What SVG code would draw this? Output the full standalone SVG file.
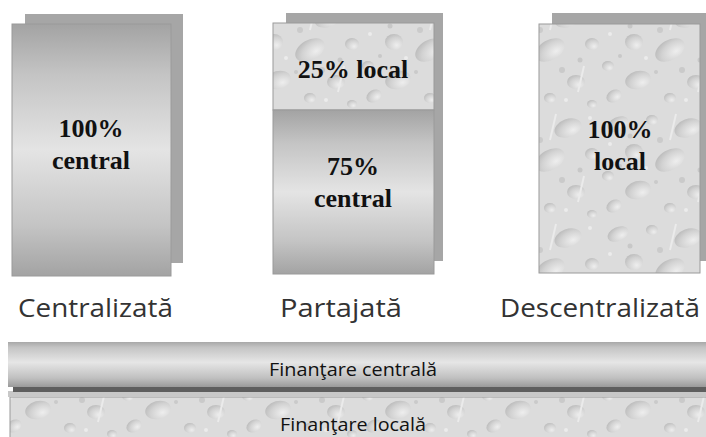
<svg xmlns="http://www.w3.org/2000/svg" width="706" height="437" viewBox="0 0 706 437">
<defs>
  <linearGradient id="cardGrad" x1="0" y1="0" x2="0" y2="1">
    <stop offset="0" stop-color="#a3a3a3"/>
    <stop offset="0.2" stop-color="#c4c4c4"/>
    <stop offset="0.5" stop-color="#e4e4e4"/>
    <stop offset="0.8" stop-color="#c4c4c4"/>
    <stop offset="1" stop-color="#a3a3a3"/>
  </linearGradient>
  <linearGradient id="barGrad" x1="0" y1="0" x2="0" y2="1">
    <stop offset="0" stop-color="#a8a8a8"/>
    <stop offset="0.12" stop-color="#c4c4c4"/>
    <stop offset="0.45" stop-color="#e6e6e6"/>
    <stop offset="0.8" stop-color="#c0c0c0"/>
    <stop offset="1" stop-color="#9a9a9a"/>
  </linearGradient>
  <radialGradient id="drop" cx="0.65" cy="0.7" r="0.8">
    <stop offset="0" stop-color="#eeeeee"/>
    <stop offset="0.6" stop-color="#d2d2d2"/>
    <stop offset="1" stop-color="#b8b8b8"/>
  </radialGradient>
  <pattern id="water" x="0" y="0" width="120" height="110" patternUnits="userSpaceOnUse">
    <rect width="120" height="110" fill="#dcdcdc"/>
    <ellipse cx="18" cy="14" rx="11" ry="7" transform="rotate(-25 18 14)" fill="url(#drop)"/>
    <ellipse cx="52" cy="10" rx="6" ry="5" fill="url(#drop)"/>
    <ellipse cx="88" cy="18" rx="14" ry="9" transform="rotate(-20 88 18)" fill="url(#drop)"/>
    <ellipse cx="112" cy="44" rx="7" ry="6" fill="url(#drop)"/>
    <ellipse cx="34" cy="42" rx="9" ry="8" fill="url(#drop)"/>
    <ellipse cx="70" cy="50" rx="16" ry="10" transform="rotate(-30 70 50)" fill="url(#drop)"/>
    <ellipse cx="8" cy="66" rx="6" ry="5" fill="url(#drop)"/>
    <ellipse cx="38" cy="80" rx="13" ry="9" transform="rotate(-15 38 80)" fill="url(#drop)"/>
    <ellipse cx="96" cy="82" rx="9" ry="7" fill="url(#drop)"/>
    <ellipse cx="70" cy="98" rx="6" ry="5" fill="url(#drop)"/>
    <ellipse cx="112" cy="104" rx="5" ry="4" fill="url(#drop)"/>
    <ellipse cx="14" cy="96" rx="8" ry="6" transform="rotate(-30 14 96)" fill="url(#drop)"/>
    <circle cx="30" cy="26" r="2.5" fill="#c8c8c8"/>
    <circle cx="60" cy="30" r="3" fill="#cbcbcb"/>
    <circle cx="100" cy="60" r="2.5" fill="#c8c8c8"/>
    <circle cx="20" cy="56" r="2" fill="#c8c8c8"/>
    <circle cx="56" cy="72" r="2" fill="#cacaca"/>
    <circle cx="82" cy="70" r="3" fill="#cacaca"/>
    <circle cx="10" cy="34" r="2" fill="#ececec"/>
    <circle cx="46" cy="58" r="2" fill="#ececec"/>
    <circle cx="110" cy="8" r="2" fill="#ececec"/>
    <circle cx="86" cy="100" r="2" fill="#ececec"/>
    <path d="M 76 4 L 70 30" stroke="#ebebeb" stroke-width="2" fill="none"/>
    <path d="M 104 66 L 98 92" stroke="#ebebeb" stroke-width="2" fill="none"/>
  </pattern>
  <style>
    .back { fill: #a6a6a6; }
    .card { fill: url(#cardGrad); stroke: #9a9a9a; stroke-width: 1; }
    .tex { fill: url(#water); stroke: #9a9a9a; stroke-width: 1; }
    .big { font-family: "Liberation Serif", "Times New Roman", serif; font-weight: bold; font-size: 26px; fill: #111; text-anchor: middle; }
    .lbl { font-family: "Open Sans", "DejaVu Sans", sans-serif; font-size: 25px; fill: #333; text-anchor: middle; }
    .bar { font-family: "Open Sans", "DejaVu Sans", sans-serif; font-size: 18px; fill: #111; text-anchor: middle; }
  </style>
</defs>
<rect width="706" height="437" fill="#ffffff"/>

<g id="centralizata">
  <rect class="back" x="25" y="14" width="158" height="249"/>
  <rect class="card" x="12" y="24" width="159" height="252"/>
  <text class="big" x="91" y="137">100%</text>
  <text class="big" x="91" y="169">central</text>
  <text class="lbl" x="95.5" y="317" textLength="155" lengthAdjust="spacingAndGlyphs">Centralizată</text>
</g>

<g id="partajata">
  <rect class="back" x="286" y="13" width="157" height="248"/>
  <rect class="tex" x="273" y="23" width="161" height="87"/>
  <rect class="card" x="273" y="110" width="161" height="164"/>
  <text class="big" x="353" y="78">25% local</text>
  <text class="big" x="353" y="175">75%</text>
  <text class="big" x="353" y="207">central</text>
  <text class="lbl" x="341" y="317" textLength="122" lengthAdjust="spacingAndGlyphs">Partajată</text>
</g>

<g id="descentralizata">
  <rect class="back" x="552" y="13" width="154" height="248"/>
  <rect class="tex" x="539" y="24" width="161" height="249"/>
  <text class="big" x="620" y="138">100%</text>
  <text class="big" x="620" y="170">local</text>
  <text class="lbl" x="600" y="317" textLength="200" lengthAdjust="spacingAndGlyphs">Descentralizată</text>
</g>

<g id="finantare-locala">
  <rect x="10" y="397" width="700" height="44" fill="url(#water)" stroke="#9a9a9a"/>
  <text class="bar" x="353" y="431" textLength="146" lengthAdjust="spacingAndGlyphs">Finanţare locală</text>
</g>

<g id="finantare-centrala">
  <rect x="8" y="391" width="700" height="6" fill="#c8c8c8"/>
  <rect x="13" y="386" width="700" height="6" fill="#5e5e5e"/>
  <rect x="8" y="342" width="700" height="45" fill="url(#barGrad)"/>
  <text class="bar" x="353" y="376" textLength="168" lengthAdjust="spacingAndGlyphs">Finanţare centrală</text>
</g>

<g id="connectors"></g>
</svg>
